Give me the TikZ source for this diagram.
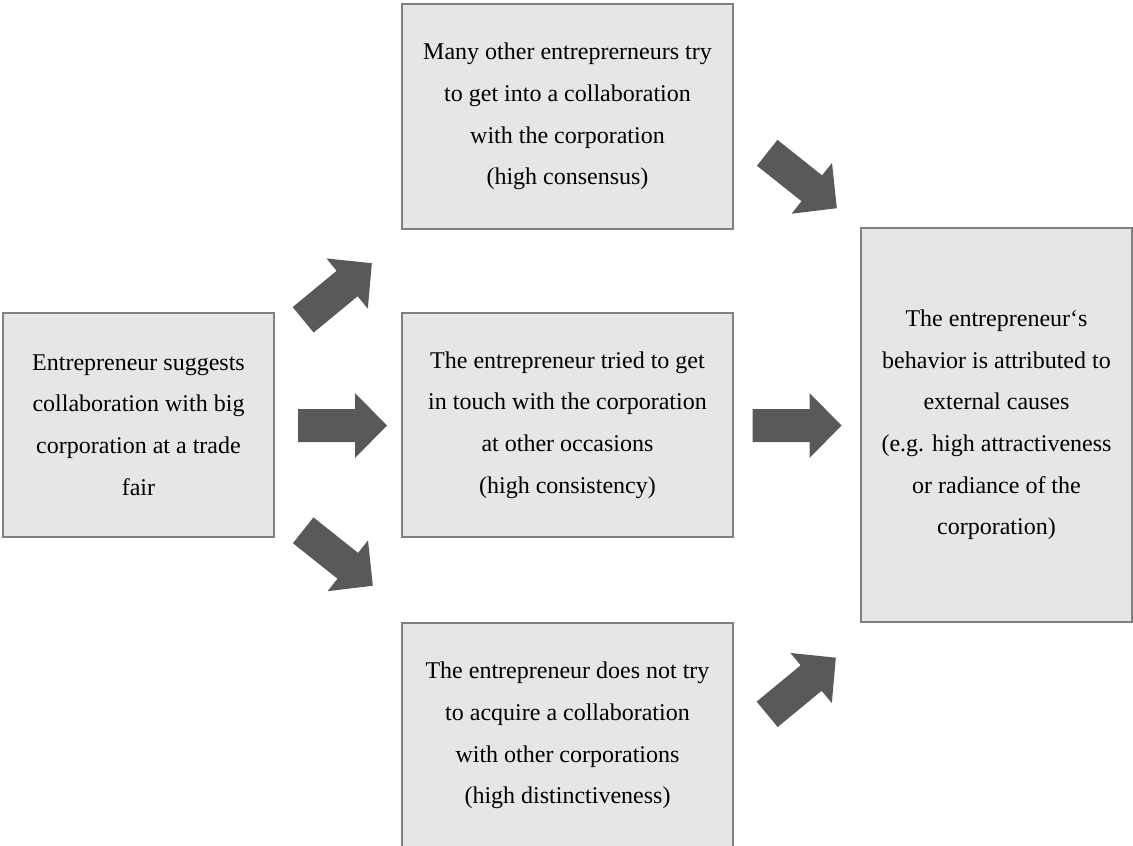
\documentclass[tikz,border=0pt]{standalone}
\usepackage{fontspec}
\setmainfont{Liberation Serif}
\usetikzlibrary{calc}
\definecolor{boxfill}{HTML}{E6E6E6}
\definecolor{boxline}{HTML}{808080}
\definecolor{arrowfill}{HTML}{595959}
\tikzset{
  box/.style={draw=boxline, line width=2pt, fill=boxfill, rectangle, inner sep=0pt,
    align=center, font=\fontsize{24}{41.6}\selectfont, text=black},
  barrow/.pic={\fill[arrowfill] (-44.5,-16.5) -- (12.5,-16.5) -- (12.5,-32.5) -- (44.5,0)
      -- (12.5,32.5) -- (12.5,16.5) -- (-44.5,16.5) -- cycle;}
}
\begin{document}
\begin{tikzpicture}[x=1pt,y=-1pt]
\useasboundingbox (0,0) rectangle (1133,846);
\clip (0,0) rectangle (1133,846);
\node[box, minimum width=271pt, minimum height=224pt] (L) at (138.5,425)
  {Entrepreneur suggests\\collaboration with big\\corporation at a trade\\fair};
\node[box, minimum width=331pt, minimum height=225pt] (T) at (567.5,116.5)
  {Many other entreprerneurs try\\to get into a collaboration\\with the corporation\\(high consensus)};
\node[box, minimum width=331pt, minimum height=224pt] (M) at (567.5,425)
  {The entrepreneur tried to get\\in touch with the corporation\\at other occasions\\(high consistency)};
\node[box, minimum width=331pt, minimum height=225pt] (B) at (567.5,735.5)
  {The entrepreneur does not try\\to acquire a collaboration\\with other corporations\\(high distinctiveness)};
\node[box, minimum width=271pt, minimum height=394pt] (R) at (996.5,425)
  {The entrepreneur‘s\\behavior is attributed to\\external causes\\(e.g. high attractiveness\\or radiance of the\\corporation)};
% block arrows
\coordinate (aLT) at (337.5,291.5);
\coordinate (aLB) at (338,558);
\coordinate (aTR) at (802,180.5);
\coordinate (aBR) at (801.5,686);
\pic[rotate=39.5] at (aLT) {barrow};
\pic at ($(L.east)!0.5!(M.west)+(4.5,0.5)$) {barrow};
\pic[rotate=-38.5] at (aLB) {barrow};
\pic[rotate=-38.5] at (aTR) {barrow};
\pic at ($(M.east)!0.5!(R.west)+(0,0.5)$) {barrow};
\pic[rotate=39.5] at (aBR) {barrow};
\end{tikzpicture}
\end{document}
